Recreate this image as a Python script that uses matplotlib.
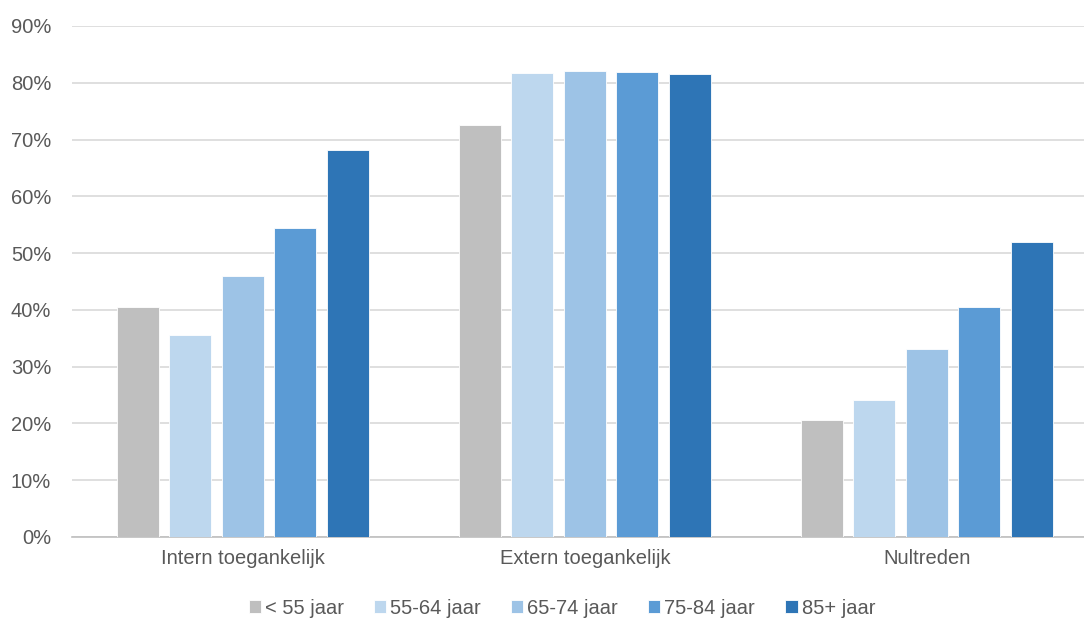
import matplotlib.pyplot as plt
import numpy as np

plt.rcParams['font.family'] = ['Liberation Sans', 'DejaVu Sans']

categorieen = ['Intern toegankelijk', 'Extern toegankelijk', 'Nultreden']
leeftijden = ['< 55 jaar', '55-64 jaar', '65-74 jaar', '75-84 jaar', '85+ jaar']
onder_55 = [40.5, 72.5, 20.6]
jaar_55_64 = [35.6, 81.7, 24.1]
jaar_65_74 = [46.0, 82.0, 33.1]
jaar_75_84 = [54.4, 81.9, 40.5]
jaar_85_plus = [68.1, 81.5, 51.9]
kleuren = ['#BFBFBF', '#BDD7EE', '#9DC3E6', '#5B9BD5', '#2E75B6']

reeksen = [onder_55, jaar_55_64, jaar_65_74, jaar_75_84, jaar_85_plus]

fig = plt.figure(figsize=(10.84, 6.21), dpi=100)
ax = fig.add_axes([72 / 1084, 1 - 537 / 621, 1 - 72 / 1084, (537 - 26) / 621])

x = np.arange(len(categorieen))
stap = 52.5 / 342
breedte = 42 / 342
for i, (waarden, kleur, label) in enumerate(zip(reeksen, kleuren, leeftijden)):
    ax.bar(x + (i - 2) * stap, np.array(waarden) / 100, width=breedte, color=kleur,
           label=label, edgecolor='white', linewidth=0.6, zorder=3)

ax.set_ylim(0, 0.9)
ax.set_xlim(-0.5, 2.46)
ax.set_yticks(np.arange(0, 0.91, 0.1))
ax.set_yticklabels([f'{int(round(v * 100))}%' for v in np.arange(0, 0.91, 0.1)])
ax.set_xticks(x)
ax.set_xticklabels(categorieen)
ax.grid(axis='y', color='#D9D9D9', linewidth=1.2, zorder=0)
for s in ['top', 'right', 'left']:
    ax.spines[s].set_visible(False)
ax.spines['bottom'].set_color('#BFBFBF')
ax.spines['bottom'].set_linewidth(1.2)
ax.tick_params(axis='both', length=0, colors='#595959', labelsize=14.5)
ax.tick_params(axis='x', pad=9)
ax.tick_params(axis='y', pad=15)

ax.legend(loc='center', bbox_to_anchor=(0.5 - 16 / 1012, (537 - 608) / 511), ncol=5, frameon=False,
          fontsize=14.5, labelcolor='#595959', handlelength=0.6, handleheight=0.6,
          handletextpad=0.2, columnspacing=1.5)

fig.savefig('out.png', dpi=100)
